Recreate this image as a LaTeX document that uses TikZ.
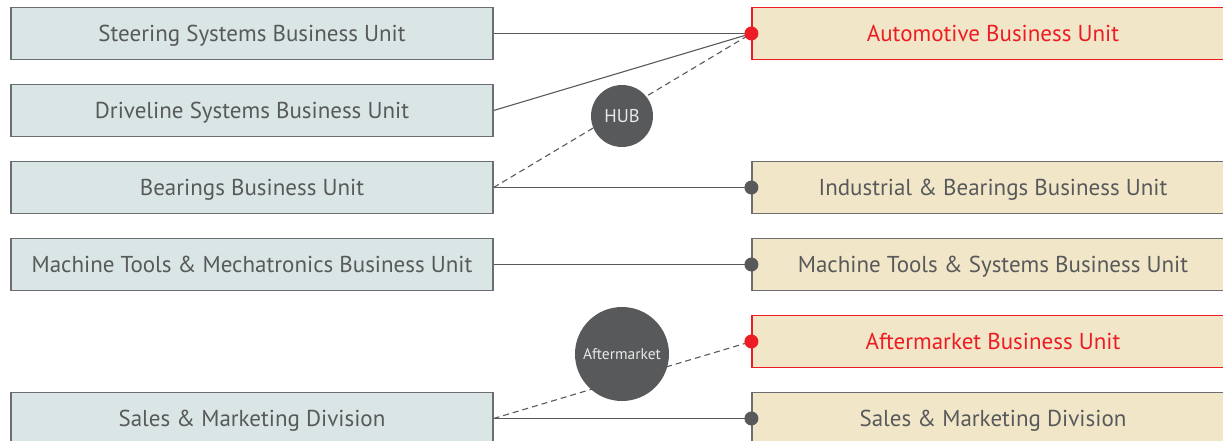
\documentclass[tikz,border=0pt]{standalone}
\usepackage{fontspec}
\setmainfont{PT Sans}
\definecolor{txtgray}{HTML}{58595B}
\definecolor{edgegray}{HTML}{6D6E71}
\definecolor{leftfill}{HTML}{D9E6E5}
\definecolor{rightfill}{HTML}{F1E7C8}
\definecolor{unitred}{HTML}{ED1C24}
\definecolor{hubtext}{HTML}{E8E8E8}
\tikzset{
  unitbox/.style={draw=edgegray, line width=1.2pt, minimum height=52pt, inner sep=0pt,
    text=txtgray, font=\fontsize{23}{26}\selectfont, text height=16pt, text depth=0pt},
  oldunit/.style={unitbox, fill=leftfill, minimum width=482pt},
  newunit/.style={unitbox, fill=rightfill, minimum width=482pt},
  keyunit/.style={newunit, draw=unitred, text=unitred},
  link/.style={draw=txtgray, line width=1.1pt},
  weaklink/.style={link, dashed, dash pattern=on 6pt off 4pt},
  grpdot/.style={fill=txtgray, circle, inner sep=0pt, minimum size=14pt},
  reddot/.style={grpdot, fill=unitred},
  hub/.style={circle, fill=txtgray, text=hubtext, inner sep=0pt}
}
\begin{document}
\begin{tikzpicture}[x=1pt, y=-1pt]
\useasboundingbox (0,0) rectangle (1223,441);
\clip (0,0) rectangle (1223,441);

% former business units
\node[oldunit] (s1) at (252,33.5)  {Steering Systems Business Unit};
\node[oldunit] (s2) at (252,110.5) {Driveline Systems Business Unit};
\node[oldunit] (s3) at (252,187.5) {Bearings Business Unit};
\node[oldunit] (s4) at (252,264.5) {Machine Tools \& Mechatronics Business Unit};
\node[oldunit] (s6) at (252,418.5) {Sales \& Marketing Division};

% new business units
\node[keyunit] (a1) at (993,33.5)  {Automotive Business Unit};
\node[newunit] (a3) at (993,187.5) {Industrial \& Bearings Business Unit};
\node[newunit] (a4) at (993,264.5) {Machine Tools \& Systems Business Unit};
\node[keyunit] (a5) at (993,341.5) {Aftermarket Business Unit};
\node[newunit] (a6) at (993,418.5) {Sales \& Marketing Division};

% reorganisation links
\draw[link] (s1.east) -- (a1.west);
\draw[link] (s2.east) -- (a1.west);
\draw[weaklink] (s3.east) -- (a1.west);
\draw[link] (s3.east) -- (a3.west);
\draw[link] (s4.east) -- (a4.west);
\draw[weaklink] (s6.east) -- (a5.west);
\draw[link] (s6.east) -- (a6.west);

% hubs
\node[hub, minimum size=62pt, font=\fontsize{18.5}{20}\selectfont] (hub) at (622,116) {HUB};
\node[hub, minimum size=94pt, font=\fontsize{15.5}{17}\selectfont] (after) at (622,354) {Aftermarket};

% connection dots
\node[reddot] (d1) at (a1.west) {};
\node[grpdot] (d3) at (a3.west) {};
\node[grpdot] (d4) at (a4.west) {};
\node[reddot] (d5) at (a5.west) {};
\node[grpdot] (d6) at (a6.west) {};
\end{tikzpicture}
\end{document}
